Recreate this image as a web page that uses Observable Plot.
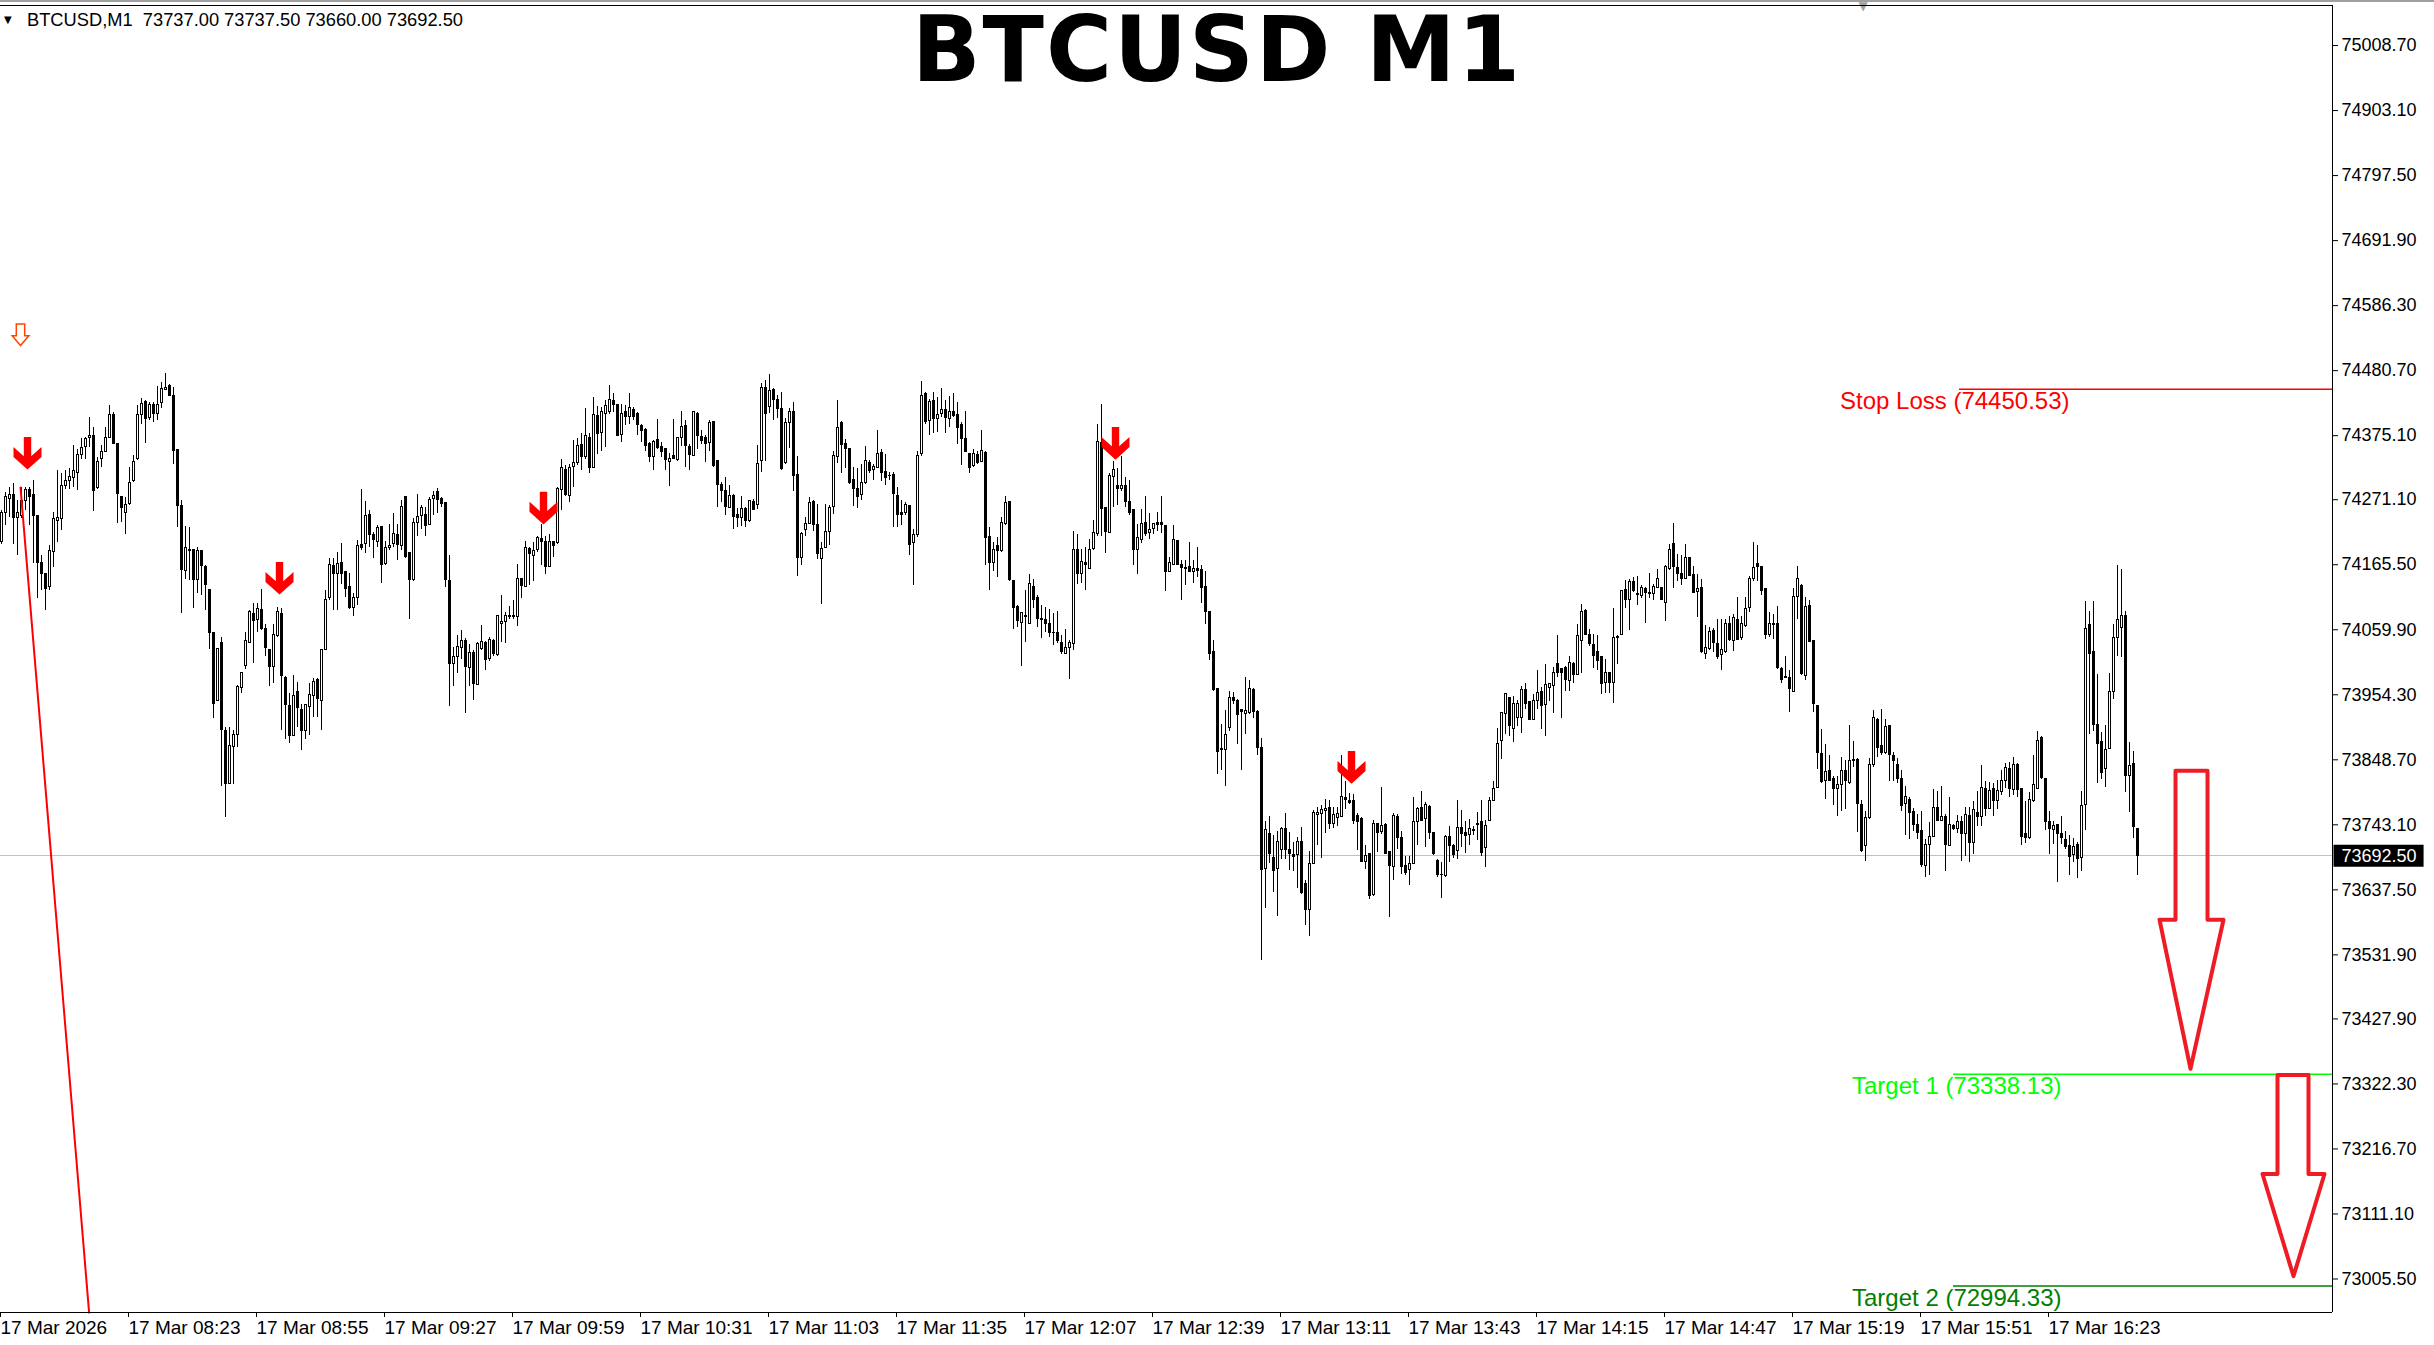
<!DOCTYPE html>
<html><head><meta charset="utf-8">
<script src="https://cdn.jsdelivr.net/npm/d3@7"></script>
<script src="https://cdn.jsdelivr.net/npm/@observablehq/plot@0.6"></script>
<style>
html,body{margin:0;padding:0;background:#fff;overflow:hidden;}
#wrap{position:relative;width:2434px;height:1345px;}
#topbar{position:absolute;left:0;top:0;width:2434px;height:2px;background:#a0a0a0;}
#hdr{position:absolute;left:4px;top:11px;font:18.3px/18px "Liberation Sans",Arial,sans-serif;color:#000;white-space:pre;}
#hdr .tri{font:10px/18px "DejaVu Sans",sans-serif;display:inline-block;width:23px;vertical-align:top;}
#title{position:absolute;left:0;top:5px;width:2434px;text-align:center;font:bold 90px/90px "DejaVu Sans",sans-serif;letter-spacing:2px;color:#000;pointer-events:none;}
</style></head><body>
<div id="wrap"><div id="chart"></div><div id="topbar"></div>
<div id="hdr"><span class="tri">▼</span><span id="hdrtext"></span></div>
<div id="title"></div></div>
<script>
const symbolName = "BTCUSD,M1";
const titleText = "BTCUSD M1";
const lastOHLC = [73737.00, 73737.50, 73660.00, 73692.50];

const opens = [
74202,74250,74272,74279,74242,74245,74269,74287,74279,74245,
74168,74151,74129,74186,74237,74240,74294,74301,74306,74315,
74343,74357,74371,74375,74290,74337,74349,74371,74409,74362,
74276,74250,74264,74301,74337,74408,74429,74403,74425,74410,
74428,74450,74456,74440,74352,74261,74155,74189,74189,74141,
74188,74162,74124,74055,73944,74039,73896,73809,73869,73889,
73965,74001,74039,74086,74076,74092,74061,74027,73999,74050,
74086,73981,73936,73888,73959,73929,73895,73935,73952,73978,
73945,74027,74112,74164,74151,74168,74154,74130,74095,74111,
74197,74199,74247,74214,74203,74227,74167,74192,74199,74214,
74196,74275,74184,74141,74234,74244,74247,74230,74272,74283,
74272,74265,74139,74004,74016,74030,74042,73998,74022,73970,
74028,74039,74012,74042,74019,74070,74073,74082,74080,74080,
74142,74130,74191,74180,74189,74207,74203,74162,74202,74200,
74287,74319,74277,74325,74330,74360,74340,74371,74322,74407,
74379,74410,74413,74432,74425,74376,74413,74406,74417,74411,
74391,74384,74361,74340,74368,74357,74353,74333,74342,74335,
74371,74391,74357,74342,74410,74373,74371,74364,74397,74334,
74295,74285,74258,74277,74246,74241,74256,74236,74268,74262,
74334,74452,74422,74449,74433,74418,74330,74395,74414,74311,
74176,74222,74232,74268,74230,74174,74193,74218,74260,74340,
74396,74362,74353,74303,74289,74279,74299,74331,74319,74322,
74347,74316,74310,74311,74277,74249,74250,74261,74200,74214,
74345,74443,74399,74432,74402,74411,74417,74402,74413,74409,
74393,74369,74345,74326,74344,74332,74347,74211,74169,74196,
74188,74231,74268,74139,74097,74071,74082,74070,74129,74111,
74077,74075,74070,74055,74054,74039,74021,74030,74036,74189,
74151,74169,74158,74191,74215,74364,74258,74217,74308,74294,
74289,74294,74268,74255,74189,74205,74233,74217,74223,74234,
74233,74229,74154,74165,74204,74165,74160,74161,74153,74158,
74157,74129,74089,74024,73963,73866,73864,73901,73949,73945,
73929,73923,73925,73962,73927,73868,73671,73729,73689,73671,
73702,73736,73703,73694,73694,73716,73647,73604,73679,73759,
73760,73765,73770,73744,73754,73756,73786,73782,73782,73757,
73752,73682,73695,73629,73744,73732,73743,73699,73674,73756,
73722,73676,73669,73679,73748,73770,73752,73772,73730,73685,
73662,73660,73723,73709,73700,73738,73730,73726,73734,73743,
73748,73705,73750,73782,73803,73880,73923,73949,73898,73917,
73916,73962,73942,73913,73945,73958,73938,73966,73969,74005,
73996,73997,73977,74005,73987,74042,74091,74052,74035,74023,
74015,73974,73989,73974,74048,74051,74124,74108,74138,74118,
74115,74126,74119,74118,74128,74127,74104,74158,74199,74160,
74150,74143,74177,74149,74121,74127,74021,74028,74058,74037,
74019,74023,74069,74042,74075,74047,74066,74096,74142,74167,
74161,74126,74052,74070,74070,73996,73983,73981,73958,74113,
74131,73985,74099,74042,73936,73858,73815,73830,73817,73801,
73808,73830,73811,73846,73849,73776,73709,73754,73840,73913,
73871,73859,73904,73855,73840,73817,73777,73783,73764,73743,
73733,73676,73710,73723,73770,73750,73756,73709,73741,73737,
73747,73729,73757,73714,73763,73755,73801,73769,73802,73781,
73797,73815,73833,73799,73840,73801,73728,73721,73781,73802,
73884,73817,73747,73734,73743,73728,73718,73709,73694,73710,
73689,73776,74068,74023,73906,73877,73833,73867,73958,74046,
74063,74082,73822,73842,73737
];
const highs = [
74253,74283,74291,74297,74269,74291,74291,74291,74302,74245,
74180,74152,74196,74250,74319,74313,74319,74321,74359,74353,
74370,74372,74405,74389,74340,74359,74388,74424,74412,74362,
74276,74275,74324,74343,74424,74435,74432,74429,74429,74455,
74462,74476,74459,74454,74353,74269,74227,74226,74189,74194,
74188,74164,74124,74055,74028,74048,73901,73901,73896,73969,
73990,74055,74091,74102,74102,74126,74069,74028,74068,74096,
74094,73984,73956,73985,73974,73939,73939,73972,73980,73980,
74028,74123,74175,74175,74185,74200,74155,74151,74118,74205,
74288,74268,74253,74218,74230,74227,74204,74231,74249,74231,
74269,74277,74184,74240,74279,74261,74258,74275,74284,74290,
74275,74266,74180,74031,74050,74059,74045,74036,74026,74039,
74066,74041,74047,74044,74083,74115,74088,74097,74108,74166,
74142,74204,74193,74202,74212,74231,74212,74215,74203,74291,
74337,74326,74329,74368,74371,74378,74420,74378,74437,74422,
74421,74433,74456,74444,74426,74426,74424,74444,74421,74413,
74394,74386,74364,74367,74402,74364,74355,74346,74402,74372,
74415,74399,74360,74415,74413,74383,74376,74399,74397,74334,
74299,74307,74294,74279,74257,74277,74258,74270,74272,74359,
74460,74465,74474,74451,74440,74445,74403,74420,74429,74342,
74218,74243,74274,74269,74263,74202,74263,74262,74350,74432,
74398,74369,74355,74324,74321,74329,74357,74335,74329,74383,
74353,74345,74316,74315,74291,74269,74267,74261,74223,74349,
74463,74445,74434,74445,74437,74451,74432,74438,74443,74429,
74397,74414,74346,74353,74350,74384,74350,74226,74202,74210,
74242,74276,74268,74140,74099,74088,74123,74149,74142,74115,
74099,74096,74092,74086,74090,74050,74061,74042,74220,74215,
74191,74193,74207,74238,74394,74426,74258,74313,74333,74321,
74342,74307,74303,74256,74231,74256,74277,74248,74232,74250,
74277,74229,74178,74230,74204,74172,74172,74202,74173,74193,
74164,74155,74089,74042,73963,73906,73929,73960,73958,73947,
73931,73983,73977,73965,73929,73884,73749,73757,73725,73732,
73739,73761,73730,73714,73723,73739,73652,73700,73767,73771,
73775,73784,73782,73771,73771,73855,73814,73794,73793,73761,
73755,73709,73696,73750,73745,73803,73745,73699,73761,73760,
73733,73692,73691,73788,73772,73797,73779,73774,73730,73687,
73682,73725,73741,73711,73782,73767,73748,73752,73741,73763,
73782,73750,73788,73814,73900,73925,73956,73949,73951,73945,
73967,73972,73944,73955,73993,73966,74004,73972,73998,74050,
73997,74001,74017,74006,74069,74101,74093,74061,74052,74051,
74017,74012,73990,74095,74050,74124,74140,74142,74145,74147,
74131,74129,74151,74133,74158,74127,74165,74199,74232,74182,
74180,74199,74178,74163,74150,74142,74066,74063,74062,74077,
74077,74077,74081,74084,74113,74081,74113,74146,74201,74196,
74163,74126,74088,74084,74097,73998,74016,73994,74127,74162,
74133,74113,74108,74042,73936,73898,73874,73855,73821,73822,
73852,73848,73904,73879,73850,73782,73765,73851,73929,73916,
73931,73914,73904,73860,73851,73832,73806,73787,73770,73760,
73765,73719,73747,73801,73798,73806,73760,73788,73744,73759,
73757,73771,73772,73781,73797,73839,73814,73812,73810,73815,
73832,73842,73844,73853,73842,73802,73781,73795,73856,73894,
73886,73817,73765,73749,73743,73756,73732,73725,73721,73714,
73798,74106,74090,74106,73988,73893,73904,73989,74068,74165,
74158,74089,73877,73862,73737.5
];
const lows = [
74199,74229,74242,74199,74180,74240,74253,74229,74167,74110,
74123,74091,74123,74161,74202,74221,74288,74288,74291,74286,
74337,74337,74356,74252,74288,74324,74348,74370,74362,74233,
74234,74215,74262,74299,74334,74394,74363,74400,74397,74400,
74420,74448,74440,74329,74226,74086,74141,74140,74094,74118,
74115,74091,74028,73916,73944,73805,73755,73809,73809,73868,
73956,73996,74038,74005,74055,74058,74016,73968,73972,74048,
73897,73882,73875,73888,73901,73863,73881,73888,73917,73917,
73896,74026,74108,74091,74091,74134,74113,74093,74081,74100,
74188,74183,74193,74176,74193,74135,74164,74188,74193,74173,
74189,74176,74077,74139,74212,74223,74211,74229,74245,74248,
74258,74128,73936,73967,73989,74012,73924,73967,73945,73969,
74026,73993,74009,74017,74017,74039,74037,74077,74077,74065,
74110,74128,74131,74139,74185,74164,74149,74161,74177,74199,
74254,74277,74267,74291,74326,74319,74337,74314,74321,74345,
74350,74356,74410,74413,74375,74364,74391,74394,74399,74376,
74364,74350,74332,74318,74353,74340,74318,74292,74337,74333,
74357,74323,74318,74341,74353,74361,74332,74350,74324,74259,
74266,74245,74257,74223,74226,74227,74226,74234,74253,74256,
74315,74333,74411,74399,74403,74318,74329,74355,74285,74146,
74164,74211,74231,74220,74174,74101,74192,74196,74247,74330,
74314,74322,74296,74260,74257,74269,74296,74314,74303,74321,
74301,74294,74303,74226,74226,74229,74245,74181,74131,74210,
74342,74393,74375,74378,74380,74405,74379,74388,74405,74361,
74326,74348,74314,74324,74328,74332,74165,74124,74155,74144,
74185,74229,74139,74061,74064,74001,74039,74069,74095,74064,
74046,74055,74047,74034,74037,74019,74019,73979,74026,74134,
74135,74124,74157,74189,74212,74211,74183,74216,74258,74261,
74285,74258,74246,74164,74150,74200,74212,74207,74215,74220,
74216,74122,74153,74165,74164,74108,74131,74153,74135,74144,
74102,74069,74010,73960,73825,73832,73806,73895,73939,73874,
73832,73889,73923,73916,73856,73523,73607,73680,73633,73595,
73687,73687,73669,73668,73640,73630,73580,73562,73678,73709,
73689,73729,73736,73737,73741,73755,73768,73776,73744,73702,
73683,73671,73622,73627,73698,73728,73695,73592,73653,73703,
73662,73661,73644,73678,73709,73748,73706,73719,73694,73657,
73624,73658,73682,73689,73687,73706,73696,73710,73725,73717,
73691,73673,73748,73781,73802,73849,73890,73887,73877,73902,
73891,73931,73912,73912,73931,73898,73887,73944,73924,73982,
73916,73960,73960,73972,73987,73989,74050,74032,73997,73993,
73955,73956,73956,73940,74003,74050,74095,74059,74120,74099,
74111,74070,74111,74108,74127,74107,74074,74156,74127,74139,
74131,74142,74146,74119,74079,74021,74012,74027,74023,74012,
73994,74021,74041,74025,74042,74042,74064,74088,74139,74139,
74115,74044,74048,74044,73996,73972,73981,73925,73958,74077,
73985,73977,74039,73925,73833,73811,73784,73814,73774,73756,
73765,73768,73809,73836,73730,73698,73683,73752,73837,73853,
73855,73858,73814,73814,73810,73764,73725,73719,73733,73719,
73674,73658,73660,73722,73748,73748,73667,73709,73734,73729,
73684,73691,73682,73695,73741,73741,73757,73768,73757,73768,
73790,73802,73788,73790,73787,73710,73712,73719,73779,73801,
73817,73734,73695,73711,73649,73711,73703,73660,73682,73656,
73668,73734,73890,73895,73810,73817,73803,73866,73947,74016,
74015,73795,73763,73721,73660
];
const closes = [
74250,74275,74278,74242,74249,74269,74287,74276,74245,74168,
74151,74126,74187,74240,74241,74294,74302,74308,74318,74344,
74355,74370,74375,74285,74333,74349,74371,74408,74362,74280,
74258,74263,74299,74333,74408,74427,74402,74425,74410,74425,
74451,74453,74440,74350,74261,74157,74193,74187,74140,74188,
74164,74132,74055,73940,74028,73897,73809,73871,73889,73967,
73989,74041,74088,74074,74094,74061,74030,73999,74051,74089,
73984,73938,73888,73953,73933,73895,73938,73954,73975,73947,
74027,74108,74165,74151,74166,74151,74126,74096,74111,74196,
74193,74245,74214,74205,74225,74165,74193,74196,74215,74197,
74260,74178,74141,74233,74243,74257,74228,74271,74277,74271,
74264,74140,74004,74016,74032,74042,73999,74022,73971,74036,
74040,74010,74043,74020,74082,74072,74083,74080,74082,74142,
74131,74192,74183,74187,74209,74203,74162,74202,74196,74288,
74322,74279,74322,74330,74359,74340,74375,74322,74409,74378,
74413,74424,74433,74425,74375,74410,74406,74420,74406,74392,
74382,74359,74341,74365,74355,74349,74335,74338,74338,74372,
74389,74358,74344,74414,74375,74366,74362,74396,74326,74295,
74285,74259,74277,74243,74242,74256,74236,74269,74255,74329,
74452,74411,74447,74433,74418,74321,74395,74414,74310,74176,
74216,74231,74265,74230,74183,74191,74219,74258,74342,74387,
74360,74353,74299,74288,74276,74298,74334,74318,74324,74345,
74315,74307,74309,74281,74246,74246,74263,74197,74214,74342,
74440,74397,74429,74402,74409,74417,74403,74413,74407,74388,
74369,74348,74323,74345,74330,74350,74209,74169,74189,74187,
74233,74265,74140,74096,74074,74087,74081,74134,74109,74077,
74075,74069,74055,74054,74042,74023,74031,74039,74189,74150,
74170,74165,74190,74217,74365,74256,74219,74310,74319,74288,
74294,74268,74250,74189,74209,74231,74216,74222,74231,74230,
74230,74153,74169,74205,74165,74160,74158,74154,74158,74155,
74127,74089,74021,73962,73862,73864,73889,73949,73945,73921,
73927,73928,73963,73927,73868,73669,73734,73696,73668,73716,
73736,73702,73695,73691,73716,73633,73604,73679,73762,73762,
73767,73768,73744,73759,73760,73788,73783,73779,73750,73747,
73683,73692,73627,73744,73730,73741,73696,73676,73757,73721,
73674,73665,73679,73747,73768,73750,73776,73730,73695,73661,
73661,73723,73709,73694,73738,73729,73725,73736,73733,73745,
73698,73741,73781,73802,73874,73924,73955,73904,73940,73940,
73962,73940,73913,73945,73957,73936,73970,73971,73989,73990,
73989,73979,74006,73987,74049,74089,74052,74036,74018,74009,
73971,73989,73973,74047,74046,74123,74108,74138,74123,74116,
74127,74119,74118,74129,74142,74108,74162,74189,74162,74150,
74142,74176,74147,74120,74126,74023,74031,74057,74039,74015,
74027,74069,74044,74079,74043,74069,74093,74143,74160,74161,
74123,74052,74070,74068,73997,73979,73982,73963,74113,74142,
73988,74097,74040,73940,73859,73813,73829,73815,73802,73808,
73830,73814,73847,73849,73777,73700,73754,73840,73916,73868,
73860,73902,73856,73846,73817,73774,73788,73763,73743,73730,
73678,73710,73723,73771,73749,73756,73710,73743,73737,73747,
73729,73759,73714,73767,73755,73803,73769,73798,73781,73798,
73815,73836,73802,73840,73799,73723,73721,73783,73807,73880,
73819,73747,73736,73741,73728,73721,73707,73691,73707,73687,
73774,74061,74021,73906,73874,73828,73864,73958,74047,74075,
74082,73822,73839,73739,73692.5
];

const priceTicks = [75008.70,74903.10,74797.50,74691.90,74586.30,74480.70,74375.10,74271.10,74165.50,74059.90,
  73954.30,73848.70,73743.10,73637.50,73531.90,73427.90,73322.30,73216.70,73111.10,73005.50];
const timeTickBars = [0,32,64,96,128,160,192,224,256,288,320,352,384,416,448,480,512];
const timeLabels = ["17 Mar 2026","17 Mar 08:23","17 Mar 08:55","17 Mar 09:27","17 Mar 09:59","17 Mar 10:31",
  "17 Mar 11:03","17 Mar 11:35","17 Mar 12:07","17 Mar 12:39","17 Mar 13:11","17 Mar 13:43","17 Mar 14:15",
  "17 Mar 14:47","17 Mar 15:19","17 Mar 15:51","17 Mar 16:23"];

const levelNames = ["Stop Loss","Target 1","Target 2"];
const levelValues = [74450.53, 73338.13, 72994.33];
const levelStartBars = [489.5, 488, 488];
const levelLabelBars = [517, 515, 515];

const signalBars = [6.5, 69.5, 135.5, 278.5, 337.5];
const signalPrices = [74320, 74117, 74231, 74336, 73810];
const hollowSignalBar = [4.75];
const hollowSignalPrice = [74539];

const trendBars = [4.75, 21.9];
const trendPrices = [74291, 72951];

const bigArrow1Bars = [543.5,551.5,551.5,555.5,547.25,539.5,543.5,543.5];
const bigArrow1Prices = [73831,73831,73589,73589,73347,73589,73589,73831];
const bigArrow2Bars = [569,576.75,576.75,580.75,573,565.25,569,569];
const bigArrow2Prices = [73337,73337,73176,73176,73010,73176,73176,73337];

const shiftMarkerBar = [465.4];

// ---------- build ----------
document.getElementById("title").textContent = titleText;
document.getElementById("hdrtext").textContent = symbolName + "  " + lastOHLC.map(v => v.toFixed(2)).join(" ");

const bars = closes.map((c, i) => ({i, open: opens[i], high: highs[i], low: lows[i], close: c}));
const lastPrice = closes[closes.length - 1];
const levels = levelNames.map((n, k) => ({name: n, value: levelValues[k], start: levelStartBars[k], label: levelLabelBars[k]}));
const levelColors = ["#ff0000", "#00ff00", "#008000"];
const signals = signalBars.map((b, k) => ({bar: b, price: signalPrices[k]}));
const hollow = hollowSignalBar.map((b, k) => ({bar: b, price: hollowSignalPrice[k]}));
const trend = trendBars.map((b, k) => ({bar: b, price: trendPrices[k]}));
const bigArrows = [
  ...bigArrow1Bars.map((b, k) => ({id: 1, bar: b, price: bigArrow1Prices[k]})),
  ...bigArrow2Bars.map((b, k) => ({id: 2, bar: b, price: bigArrow2Prices[k]}))
];
const timeLabelMap = new Map(timeTickBars.map((b, k) => [b, timeLabels[k]]));

const xDomain = [-0.25, 582.75];
const yDomain = [72951.1, 75073.7];

const downArrow = {draw(ctx) {
  const p = [[-3.7,-32.7],[3.7,-32.7],[3.7,-13.4],[14,-22.7],[14,-12.7],[0,0],[-14,-12.7],[-14,-22.7],[-3.7,-13.4]];
  ctx.moveTo(p[0][0], p[0][1]); for (let k = 1; k < p.length; k++) ctx.lineTo(p[k][0], p[k][1]); ctx.closePath();
}};
const hollowArrow = {draw(ctx) {
  const p = [[-4.2,-10.8],[4.2,-10.8],[4.2,0.9],[8.3,0.9],[0,10.8],[-8.3,0.9],[-4.2,0.9]];
  ctx.moveTo(p[0][0], p[0][1]); for (let k = 1; k < p.length; k++) ctx.lineTo(p[k][0], p[k][1]); ctx.closePath();
}};

const marks = [
  Plot.ruleY([lastPrice], {stroke: "#c0c0c0", strokeWidth: 1, shapeRendering: "crispEdges"}),
];
levels.forEach((lv, k) => {
  marks.push(Plot.ruleY([lv], {y: "value", x1: "start", x2: () => xDomain[1], stroke: levelColors[k], strokeWidth: 1.5}));
  marks.push(Plot.text([lv], {x: "label", y: "value", text: d => `${d.name} (${d.value.toFixed(2)})`,
    textAnchor: "end", lineAnchor: "top", dy: 3, fill: levelColors[k], fontSize: 24,
    fontFamily: "'Liberation Sans', Arial, sans-serif"}));
});
marks.push(
  Plot.ruleX(bars, {x: "i", y1: "low", y2: "high", stroke: "black", strokeWidth: 1, shapeRendering: "crispEdges"}),
  Plot.rect(bars.filter(d => d.close >= d.open), {x1: d => d.i - 0.25, x2: d => d.i + 0.25, y1: "open", y2: "close",
    fill: "white", stroke: "black", strokeWidth: 1, shapeRendering: "crispEdges"}),
  Plot.rect(bars.filter(d => d.close < d.open), {x1: d => d.i - 0.25, x2: d => d.i + 0.25, y1: "open", y2: "close",
    fill: "black", stroke: "black", strokeWidth: 1, shapeRendering: "crispEdges"}),
  Plot.line(trend, {x: "bar", y: "price", stroke: "#ff0000", strokeWidth: 2}),
  Plot.dot(signals, {x: "bar", y: "price", symbol: downArrow, r: 5, fill: "#ff0000", stroke: "none"}),
  Plot.dot(hollow, {x: "bar", y: "price", symbol: hollowArrow, r: 5, fill: "white", stroke: "#ff4500", strokeWidth: 1.5}),
  Plot.line(bigArrows, {x: "bar", y: "price", z: "id", stroke: "#ee1c24", strokeWidth: 4, strokeLinejoin: "round"}),
  Plot.text(shiftMarkerBar, {x: d => d, frameAnchor: "top", text: () => "▼", lineAnchor: "top", dy: -4,
    fill: "#a0a0a0", fontSize: 12, fontFamily: "'DejaVu Sans', sans-serif"}),
  Plot.ruleX([xDomain[1]], {stroke: "black", strokeWidth: 1}),
  Plot.ruleY([yDomain[0]], {stroke: "black", strokeWidth: 1}),
  Plot.ruleY([yDomain[1]], {stroke: "black", strokeWidth: 1}),
  Plot.axisY({anchor: "right", ticks: priceTicks, tickFormat: d => d.toFixed(2), tickSize: 5, tickPadding: 4,
    fontSize: 18, label: null}),
  Plot.axisX({anchor: "bottom", ticks: timeTickBars, tickFormat: d => timeLabelMap.get(d), tickSize: 5, tickPadding: 3,
    textAnchor: "start", dx: -1, fontSize: 19, label: null}),
  Plot.text([lastPrice], {frameAnchor: "right", y: d => d, text: d => d.toFixed(2), dx: 9, textAnchor: "start",
    fill: "white", fontSize: 18})
);

const chart = Plot.plot({
  width: 2434, height: 1345,
  marginLeft: 0, marginRight: 102, marginTop: 5, marginBottom: 33,
  x: {type: "linear", domain: xDomain},
  y: {type: "linear", domain: yDomain},
  style: {fontFamily: "'Liberation Sans', Arial, sans-serif", fontSize: "18px", background: "white", color: "black", overflow: "visible"},
  marks
});
document.getElementById("chart").appendChild(chart);

// black background box behind the current price label
const lbl = [...chart.querySelectorAll("text")].find(t => t.textContent === lastPrice.toFixed(2) && t.closest("g") && t.closest("g").getAttribute("fill") === "white" || (t.textContent === lastPrice.toFixed(2) && t.getAttribute("fill") === "white"));
if (lbl) {
  const bb = lbl.getBBox();
  const r = document.createElementNS("http://www.w3.org/2000/svg", "rect");
  r.setAttribute("x", bb.x - 8);
  r.setAttribute("y", bb.y - 1);
  r.setAttribute("width", bb.width + 15);
  r.setAttribute("height", bb.height + 2);
  r.setAttribute("fill", "black");
  const tr = lbl.getAttribute("transform");
  if (tr) r.setAttribute("transform", tr);
  lbl.parentNode.insertBefore(r, lbl);
}
</script></body></html>
